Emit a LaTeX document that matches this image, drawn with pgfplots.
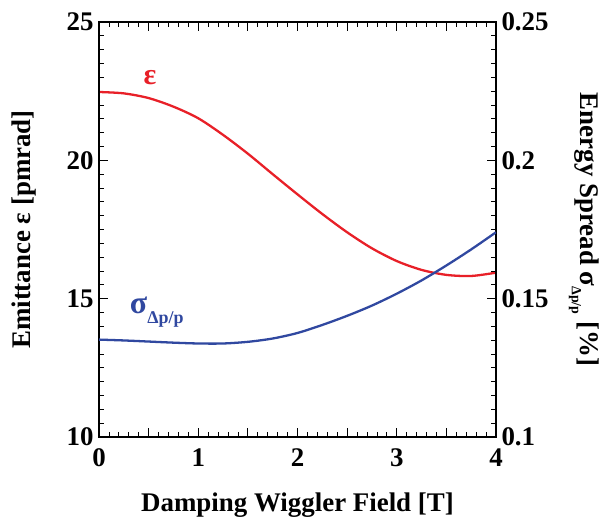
\documentclass[border=0pt]{standalone}
\usepackage{fontspec}
\setmainfont{Liberation Serif}
\usepackage{pgfplots}
\pgfplotsset{compat=1.18}

\definecolor{emitred}{RGB}{232,32,40}
\definecolor{spreadblue}{RGB}{48,72,160}

\pgfplotsset{
  common/.style={
    scale only axis,
    width=397bp, height=415bp,
    xmin=0, xmax=4,
    tick align=inside,
    major tick length=9bp,
    minor tick length=5bp,
    major tick style={line width=1pt, draw=black},
    minor tick style={line width=0.8pt, draw=black},
    axis line style={line width=1.1pt},
    tick label style={font=\fontsize{27}{32}\selectfont\bfseries},
    label style={font=\fontsize{27}{32}\selectfont\bfseries},
    /pgf/number format/assume math mode=true,
  }
}

\begin{document}
\begin{tikzpicture}
\useasboundingbox (-99bp,-85bp) rectangle (505bp,437bp);
% Emittance (left axis)
\begin{axis}[
  common,
  ymin=10, ymax=25,
  xtick={0,0.5,...,4},
  xticklabels={0,,1,,2,,3,,4},
  minor x tick num=4,
  ytick={10,15,20,25},
  minor y tick num=9,
  ytick pos=left,
  xticklabel style={yshift=-8bp},
  yticklabel style={xshift=-2bp},
  xlabel={Damping Wiggler Field [T]},
  ylabel={Emittance ε [pmrad]},
  xlabel style={at={(axis description cs:0.5,-0.164)}, anchor=center},
  ylabel style={at={(axis description cs:-0.189,0.5)}, anchor=center},
]
\addplot[emitred, line width=2.3pt, smooth] coordinates {
  (0.00,22.47) (0.25,22.42) (0.50,22.25) (0.75,21.94) (1.00,21.52)
  (1.25,20.92) (1.50,20.24) (1.75,19.50) (2.00,18.77) (2.25,18.06)
  (2.50,17.40) (2.75,16.82) (3.00,16.36) (3.25,16.04) (3.50,15.86)
  (3.75,15.82) (4.00,15.94)
};
\node[emitred, anchor=center, font=\fontsize{30}{34}\selectfont\bfseries]
  at (axis cs:0.515,22.98) {ε};
\node[spreadblue, anchor=base west, inner sep=0pt, font=\fontsize{32}{36}\selectfont\bfseries]
  at (axis cs:0.31,14.45) {σ\raisebox{-10bp}{\fontsize{18}{20}\selectfont Δp/p}};
\end{axis}

% Energy spread (right axis)
\begin{axis}[
  common,
  ymin=0.1, ymax=0.25,
  hide x axis,
  ytick={0.1,0.15,0.2,0.25},
  yticklabels={0.1,0.15,0.2,0.25},
  minor y tick num=9,
  ytick pos=right,
  yticklabel style={xshift=2bp},
  ylabel={Energy Spread σ\raisebox{-9bp}{\fontsize{14}{16}\selectfont Δp/p} [\%]},
  ylabel style={at={(axis description cs:1.222,0.5)}, anchor=center, rotate=180},
]
\addplot[spreadblue, line width=2.3pt, smooth] coordinates {
  (0.00,0.1352) (0.25,0.1349) (0.50,0.1345) (0.75,0.1341) (1.00,0.1338)
  (1.25,0.1338) (1.50,0.1344) (1.75,0.1356) (2.00,0.1376) (2.25,0.1405)
  (2.50,0.1438) (2.75,0.1475) (3.00,0.1518) (3.25,0.1566) (3.50,0.1620)
  (3.75,0.1678) (4.00,0.1740)
};
\end{axis}
\end{tikzpicture}
\end{document}
